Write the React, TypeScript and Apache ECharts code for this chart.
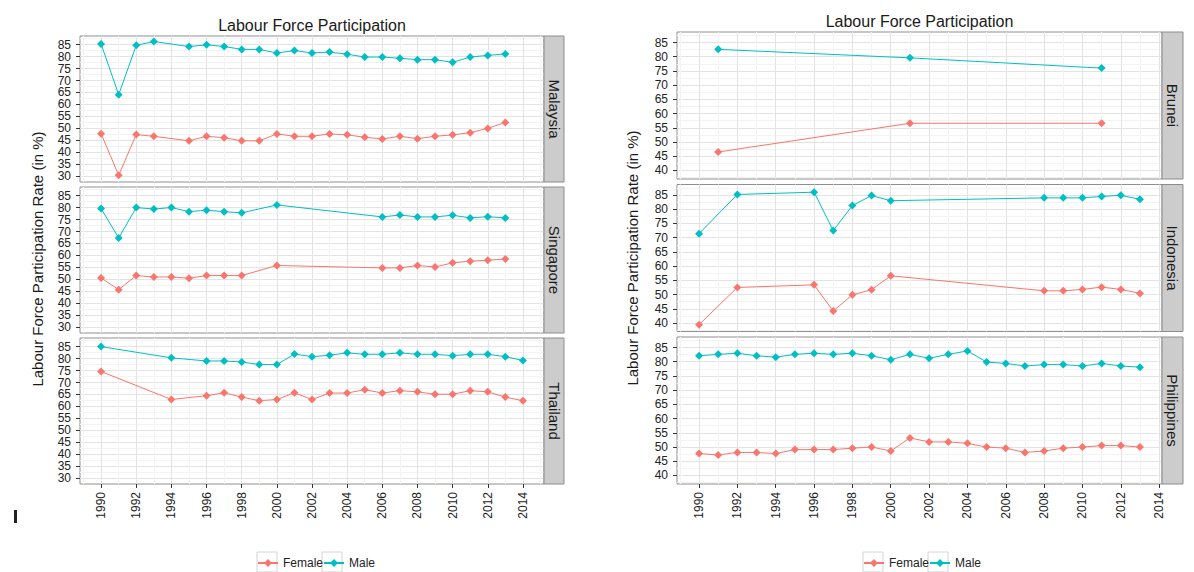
import React, { useEffect, useRef } from "react";
import * as echarts from "echarts";

const FEMALE_COLOR = "#F8766D";
const MALE_COLOR = "#00BFC4";
const FONT = "'Liberation Sans', Arial, sans-serif";

const seriesNames = ["Female", "Male"];
const chartTitle = "Labour Force Participation";
const yTitle = "Labour Force Participation Rate (in %)";

const malaysiaYears = [1990, 1991, 1992, 1993, 1995, 1996, 1997, 1998, 1999, 2000, 2001, 2002, 2003, 2004, 2005, 2006, 2007, 2008, 2009, 2010, 2011, 2012, 2013];
const malaysiaFemale = [47.8, 30.4, 47.4, 46.7, 44.8, 46.7, 46.1, 44.8, 44.8, 47.7, 46.7, 46.7, 47.7, 47.3, 46.3, 45.6, 46.7, 45.7, 46.7, 47.3, 48.2, 50.0, 52.5];
const malaysiaMale = [85.3, 64.1, 84.7, 86.3, 84.2, 84.9, 84.2, 83.0, 83.0, 81.5, 82.5, 81.5, 81.9, 81.0, 79.8, 79.8, 79.3, 78.7, 78.7, 77.6, 79.8, 80.5, 81.1];

const singaporeYears = [1990, 1991, 1992, 1993, 1994, 1995, 1996, 1997, 1998, 2000, 2006, 2007, 2008, 2009, 2010, 2011, 2012, 2013];
const singaporeFemale = [50.6, 45.7, 51.6, 51.0, 51.0, 50.5, 51.6, 51.6, 51.6, 55.8, 54.8, 54.8, 55.8, 55.2, 56.9, 57.6, 58.0, 58.5];
const singaporeMale = [79.6, 67.3, 80.0, 79.4, 80.0, 78.3, 78.9, 78.3, 77.8, 81.1, 76.1, 76.9, 76.1, 76.1, 76.8, 75.7, 76.2, 75.7];

const thailandYears = [1990, 1994, 1996, 1997, 1998, 1999, 2000, 2001, 2002, 2003, 2004, 2005, 2006, 2007, 2008, 2009, 2010, 2011, 2012, 2013, 2014];
const thailandFemale = [74.6, 62.9, 64.5, 65.7, 63.9, 62.4, 62.9, 65.7, 62.9, 65.6, 65.6, 67.0, 65.6, 66.6, 66.1, 65.1, 65.1, 66.6, 66.1, 63.9, 62.4];
const thailandMale = [85.0, 80.3, 79.0, 79.0, 78.6, 77.5, 77.5, 81.9, 80.8, 81.4, 82.4, 81.8, 81.8, 82.4, 81.8, 81.8, 81.2, 81.8, 81.8, 80.8, 79.2];

const bruneiYears = [1991, 2001, 2011];
const bruneiFemale = [46.5, 56.6, 56.6];
const bruneiMale = [82.6, 79.6, 76.0];

const indonesiaYears = [1990, 1992, 1996, 1997, 1998, 1999, 2000, 2008, 2009, 2010, 2011, 2012, 2013];
const indonesiaFemale = [39.4, 52.5, 53.4, 44.2, 49.9, 51.7, 56.6, 51.3, 51.3, 51.8, 52.6, 51.8, 50.4];
const indonesiaMale = [71.4, 85.2, 86.0, 72.5, 81.3, 84.8, 83.0, 84.0, 84.0, 84.0, 84.5, 84.9, 83.5];

const philippinesYears = [1990, 1991, 1992, 1993, 1994, 1995, 1996, 1997, 1998, 1999, 2000, 2001, 2002, 2003, 2004, 2005, 2006, 2007, 2008, 2009, 2010, 2011, 2012, 2013];
const philippinesFemale = [47.7, 47.2, 48.1, 48.1, 47.7, 49.1, 49.1, 49.1, 49.6, 50.0, 48.6, 53.2, 51.8, 51.8, 51.3, 50.0, 49.6, 48.1, 48.6, 49.6, 50.0, 50.5, 50.5, 50.0];
const philippinesMale = [82.1, 82.6, 83.0, 82.1, 81.6, 82.6, 83.0, 82.6, 83.0, 82.1, 80.7, 82.6, 81.2, 82.6, 83.8, 79.9, 79.4, 78.5, 79.0, 79.0, 78.5, 79.4, 78.5, 78.1];

const xLabelYears = [1990, 1992, 1994, 1996, 1998, 2000, 2002, 2004, 2006, 2008, 2010, 2012, 2014];
const leftYLabels = [30, 35, 40, 45, 50, 55, 60, 65, 70, 75, 80, 85];
const rightYLabels = [40, 45, 50, 55, 60, 65, 70, 75, 80, 85];

const panels = [
  { name: "Malaysia", side: 0, row: 0, years: malaysiaYears, female: malaysiaFemale, male: malaysiaMale },
  { name: "Singapore", side: 0, row: 1, years: singaporeYears, female: singaporeFemale, male: singaporeMale },
  { name: "Thailand", side: 0, row: 2, years: thailandYears, female: thailandFemale, male: thailandMale },
  { name: "Brunei", side: 1, row: 0, years: bruneiYears, female: bruneiFemale, male: bruneiMale },
  { name: "Indonesia", side: 1, row: 1, years: indonesiaYears, female: indonesiaFemale, male: indonesiaMale },
  { name: "Philippines", side: 1, row: 2, years: philippinesYears, female: philippinesFemale, male: philippinesMale },
];

const MAJOR = "#E3E3E3";
const MINOR = "#F3F3F3";

function range(a: number, b: number, step: number) {
  const out: number[] = [];
  for (let v = a; v <= b + 1e-9; v += step) out.push(Math.round(v * 100) / 100);
  return out;
}

const layouts = [
  {
    left: 80, width: 464, tops: [36, 187, 338], height: 146, stripW: 20,
    xMin: 1988.8, xMax: 2015.2, yMin: 27.6, yMax: 88.6,
    xGrid: range(1989, 2015, 1), xColors: [MINOR, MAJOR],
    yGrid: range(30, 87.5, 2.5), yColors: [MAJOR, MINOR],
    yLabels: leftYLabels, titleX: 312, titleY: 25, yTitleX: 37, yTitleY: 259, legendLeft: 257,
  },
  {
    left: 677, width: 485, tops: [32, 184.5, 337], height: 147, stripW: 21,
    xMin: 1988.85, xMax: 2014.15, yMin: 37.0, yMax: 88.7,
    xGrid: range(1989, 2014, 1), xColors: [MINOR, MAJOR],
    yGrid: range(37.5, 87.5, 2.5), yColors: [MINOR, MAJOR],
    yLabels: rightYLabels, titleX: 919.5, titleY: 21, yTitleX: 632, yTitleY: 258, legendLeft: 863,
  },
];

function buildOption() {
  const grid: any[] = [];
  const xAxis: any[] = [];
  const yAxis: any[] = [];
  const series: any[] = [];
  const graphic: any[] = [];

  panels.forEach((p, i) => {
    const L = layouts[p.side];
    const top = L.tops[p.row];
    const isBottom = p.row === 2;
    grid.push({
      left: L.left, top, width: L.width, height: L.height,
      show: true, borderColor: "#8F8F8F", borderWidth: 1, backgroundColor: "#FFFFFF",
      containLabel: false, outerBoundsMode: "none",
    });
    xAxis.push({
      type: "value", gridIndex: i, min: L.xMin, max: L.xMax, position: "bottom",
      axisLine: { show: false, onZero: false },
      axisTick: { show: false, customValues: L.xGrid },
      axisLabel: { show: false },
      splitLine: { show: true, lineStyle: { color: L.xColors, width: 1 } },
    });
    xAxis.push({
      type: "value", gridIndex: i, min: L.xMin, max: L.xMax, position: "bottom",
      axisLine: { show: false, onZero: false },
      axisTick: { show: isBottom, customValues: xLabelYears, length: 4, lineStyle: { color: "#333333" } },
      axisLabel: {
        show: isBottom, customValues: xLabelYears, rotate: 90, margin: 8, fontSize: 12,
        color: "#222222", fontFamily: FONT, formatter: (v: number) => String(v), hideOverlap: false,
      },
      splitLine: { show: false },
    });
    yAxis.push({
      type: "value", gridIndex: i, min: L.yMin, max: L.yMax, position: "left",
      axisLine: { show: false },
      axisTick: { show: false, customValues: L.yGrid },
      axisLabel: { show: false },
      splitLine: { show: true, lineStyle: { color: L.yColors, width: 1 } },
    });
    yAxis.push({
      type: "value", gridIndex: i, min: L.yMin, max: L.yMax, position: "left",
      axisLine: { show: false },
      axisTick: { show: true, customValues: L.yLabels, length: 4, lineStyle: { color: "#333333" } },
      axisLabel: {
        show: true, customValues: L.yLabels, margin: 9, fontSize: 12, color: "#222222",
        fontFamily: FONT, formatter: (v: number) => String(v), hideOverlap: false,
      },
      splitLine: { show: false },
    });

    const mk = (name: string, vals: number[], color: string) => ({
      type: "line", name, xAxisIndex: 2 * i, yAxisIndex: 2 * i,
      data: p.years.map((y, k) => [y, vals[k]]),
      symbol: "diamond", symbolSize: 8, showSymbol: true,
      lineStyle: { color, width: 1 }, itemStyle: { color },
      emphasis: { disabled: true }, z: 3,
    });
    series.push(mk(seriesNames[0], p.female, FEMALE_COLOR));
    series.push(mk(seriesNames[1], p.male, MALE_COLOR));

    graphic.push({
      type: "rect", z: 1,
      shape: { x: L.left + L.width, y: top, width: L.stripW, height: L.height },
      style: { fill: "#CCCCCC", stroke: "#8C8C8C", lineWidth: 1 },
    });
    graphic.push({
      type: "text", z: 2,
      x: L.left + L.width + L.stripW / 2, y: top + L.height / 2, rotation: -Math.PI / 2,
      style: { text: p.name, fontSize: 15, fontFamily: FONT, fill: "#1A1A1A", textAlign: "center", textVerticalAlign: "middle" },
    });
  });

  layouts.forEach((L) => {
    graphic.push({
      type: "text", z: 2, x: L.titleX, y: L.titleY,
      style: { text: chartTitle, fontSize: 16, fontFamily: FONT, fill: "#1A1A1A", textAlign: "center", textVerticalAlign: "middle" },
    });
    graphic.push({
      type: "text", z: 2, x: L.yTitleX, y: L.yTitleY, rotation: Math.PI / 2,
      style: { text: yTitle, fontSize: 15, fontFamily: FONT, fill: "#1A1A1A", textAlign: "center", textVerticalAlign: "middle" },
    });
    graphic.push({
      type: "rect", z: 0, shape: { x: L.legendLeft, y: 552, width: 20, height: 20 },
      style: { fill: "#FFFFFF", stroke: "#D4D4D4", lineWidth: 1 },
    });
    graphic.push({
      type: "rect", z: 0, shape: { x: L.legendLeft + 65, y: 552, width: 20, height: 20 },
      style: { fill: "#FFFFFF", stroke: "#D4D4D4", lineWidth: 1 },
    });
  });

  graphic.push({ type: "rect", z: 2, shape: { x: 14, y: 510, width: 3, height: 13 }, style: { fill: "#222222" } });

  const legend = layouts.map((L) => ({
    left: L.legendLeft, top: 557, padding: 0, itemWidth: 20, itemHeight: 10, itemGap: 0,
    orient: "horizontal", selectedMode: false, data: seriesNames,
    textStyle: { fontSize: 12, color: "#222222", fontFamily: FONT },
  }));

  return {
    animation: false,
    backgroundColor: "#FFFFFF",
    textStyle: { fontFamily: FONT },
    grid, xAxis, yAxis, series, legend, graphic,
    tooltip: { show: false },
  };
}

export default function App() {
  const ref = useRef<HTMLDivElement>(null);
  useEffect(() => {
    document.body.style.margin = "0";
    if (!ref.current) return;
    const chart = echarts.init(ref.current, null, { renderer: "svg" });
    chart.setOption(buildOption() as any);
    return () => chart.dispose();
  }, []);
  return <div ref={ref} style={{ width: 1194, height: 572, background: "#FFFFFF" }} />;
}
